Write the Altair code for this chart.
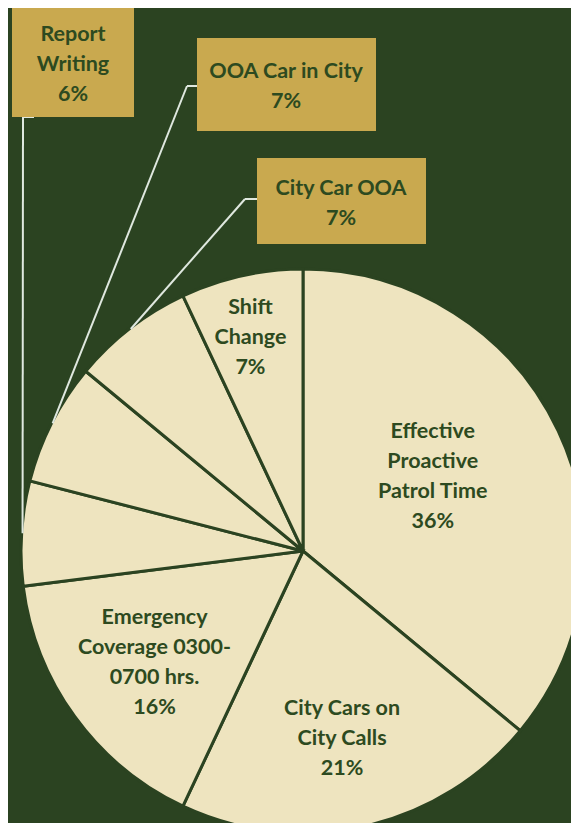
import math
import altair as alt
import pandas as pd

# ---- data ----
categories = [
    "Effective Proactive Patrol Time",
    "City Cars on City Calls",
    "Emergency Coverage 0300-0700 hrs.",
    "Report Writing",
    "OOA Car in City",
    "City Car OOA",
    "Shift Change",
]
labels = [
    "Effective\nProactive\nPatrol Time",
    "City Cars on\nCity Calls",
    "Emergency\nCoverage 0300-\n0700 hrs.",
    "Report\nWriting",
    "OOA Car in City",
    "City Car OOA",
    "Shift\nChange",
]
percentages = [36, 21, 16, 6, 7, 7, 7]

df = pd.DataFrame({"cat": categories, "label": labels, "pct": percentages})
df["idx"] = range(len(df))
df["end"] = df["pct"].cumsum()
df["start"] = df["end"] - df["pct"]
df["mid"] = (df["start"] + df["end"]) / 2
df["text"] = df["label"] + "\n" + df["pct"].astype(str) + "%"
total = float(df["pct"].sum())

# ---- styling / layout ----
BG = "#2b4321"
CREAM = "#eee4bf"
GOLD = "#c9a94f"
INK = "#2d4a20"
LEADER = "#dfe8df"
FONT = "Lato"
FS = 21.5
LH = 30
W, H = 563, 815
CX, CY, R = 295, 543, 282

theta_scale = alt.Scale(domain=[0, total])


def nlines(cat):
    return df.loc[df["cat"] == cat, "text"].iloc[0].count("\n") + 1


pie = alt.Chart(df).mark_arc(
    radius=R, fill=CREAM, stroke=BG, strokeWidth=3
).encode(
    theta=alt.Theta("start:Q", scale=theta_scale),
    theta2="end:Q",
    x=alt.value(CX),
    y=alt.value(CY),
)

# inside labels: radius, dx, dy (block centre offsets)
inside = {
    "Effective Proactive Patrol Time": (150, -6, -10),
    "City Cars on City Calls": (193, -3, 0),
    "Emergency Coverage 0300-0700 hrs.": (186, 2, 3),
    "Shift Change": (218, -5, 0),
}

layers = [pie]
for cat, (rr, ddx, ddy) in inside.items():
    shift = -(nlines(cat) - 1) / 2 * LH
    layers.append(
        alt.Chart(df[df["cat"] == cat]).mark_text(
            radius=rr, dx=ddx, dy=ddy + shift, font=FONT, fontSize=FS, fontWeight="bold",
            color=INK, lineBreak="\n", lineHeight=LH, align="center", baseline="middle",
        ).encode(
            theta=alt.Theta("mid:Q", scale=theta_scale, stack=None),
            x=alt.value(CX),
            y=alt.value(CY),
            text="text:N",
        )
    )

# outside boxes: (x1, x2, y1, y2, text_x, text_y, elbow_start_x, elbow_end_x, elbow_y)
boxes = {
    "Report Writing": (4, 126, 0, 109, 65, 57, 26, 15, 109),
    "OOA Car in City": (189, 368, 30, 123, 278, 79, 189, 179, 78),
    "City Car OOA": (249, 418, 150, 236, 333, 196, 249, 237, 191),
}

one = pd.DataFrame({"a": [0]})
for cat, (x1, x2, y1, y2, tx, ty, ex1, ex2, ey) in boxes.items():
    row = df[df["cat"] == cat].iloc[0]
    ang = row["mid"] / total * 2 * math.pi
    px = CX + (R - 1) * math.sin(ang)
    py = CY - (R - 1) * math.cos(ang)
    shift = -(nlines(cat) - 1) / 2 * LH
    layers.append(
        alt.Chart(one).mark_rule(color=LEADER, strokeWidth=2).encode(
            x=alt.value(ex1), x2=alt.value(ex2), y=alt.value(ey), y2=alt.value(ey)
        )
    )
    layers.append(
        alt.Chart(one).mark_rule(color=LEADER, strokeWidth=2).encode(
            x=alt.value(ex2), x2=alt.value(px), y=alt.value(ey), y2=alt.value(py)
        )
    )
    layers.append(
        alt.Chart(one).mark_rect(fill=GOLD).encode(
            x=alt.value(x1), x2=alt.value(x2), y=alt.value(y1), y2=alt.value(y2)
        )
    )
    layers.append(
        alt.Chart(df[df["cat"] == cat]).mark_text(
            font=FONT, fontSize=FS, fontWeight="bold", color=INK,
            lineBreak="\n", lineHeight=LH, align="center", baseline="middle",
        ).encode(x=alt.value(tx), y=alt.value(ty + shift), text="text:N")
    )

chart = alt.layer(*layers).properties(
    width=W, height=H, background=BG, padding=0,
    autosize=alt.AutoSizeParams(type="none"),
).configure_view(stroke=None)

chart.save("out.html", embed_options={"renderer": "svg", "actions": False})
